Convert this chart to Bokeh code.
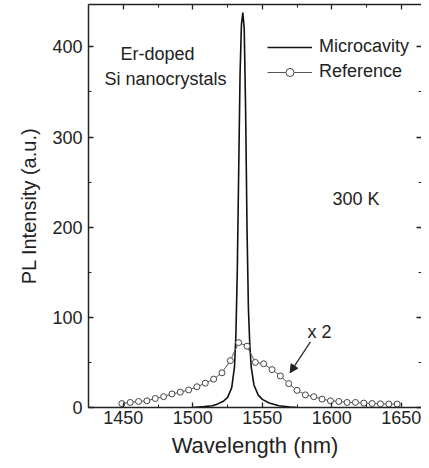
from bokeh.plotting import figure
from bokeh.models import (Range1d, LinearAxis, SingleIntervalTicker, Label, Arrow,
                          NormalHead, Legend, LegendItem, CustomJSTickFormatter, Title)
from bokeh.embed import file_html
from bokeh.resources import INLINE

# --- data ---
mc_wl = [1500, 1508, 1514, 1518, 1522, 1525, 1528, 1530, 1531, 1532, 1533, 1534, 1535,
         1536, 1537, 1538, 1539, 1540, 1541, 1542, 1544, 1547, 1550, 1555, 1562, 1570, 1575]
mc_pl = [0, 1, 2, 4, 7, 11, 22, 45, 80, 150, 260, 370, 425,
         438, 420, 330, 200, 110, 70, 45, 25, 14, 9, 5, 2, 0.5, 0]

ref_wl = [1449, 1455, 1461, 1467, 1473, 1479, 1485, 1491, 1497, 1503, 1509, 1515,
          1521, 1527, 1533, 1539, 1545, 1551, 1557, 1563, 1569, 1575, 1581, 1587,
          1593, 1599, 1605, 1611, 1617, 1623, 1629, 1635, 1641, 1647]
ref_pl = [4.4, 5.6, 6.7, 7.4, 10, 12, 15, 17, 19.5, 23, 27, 31.5,
          38.5, 52, 72, 68, 50, 48.5, 42, 35, 26.5, 19, 14, 12,
          9.3, 7.4, 6.7, 5.6, 5.6, 4.9, 4.4, 4.1, 3.8, 3.8]

FONT = "Liberation Sans"
INK = "#222222"

p = figure(width=421, height=460, output_backend="svg", toolbar_location=None,
           x_range=Range1d(1425, 1664.5), y_range=Range1d(0, 447),
           x_axis_label="Wavelength (nm)",
           min_border_left=88, min_border_right=0, min_border_top=4, min_border_bottom=53)
p.outline_line_color = None
p.grid.grid_line_color = None
p.background_fill_color = "white"

p.xaxis.ticker = SingleIntervalTicker(interval=50, num_minor_ticks=2)
p.yaxis.ticker = SingleIntervalTicker(interval=100, num_minor_ticks=2)

def style(ax, labels=True):
    ax.axis_line_color = INK
    ax.axis_line_width = 1.5
    ax.major_tick_line_color = INK
    ax.minor_tick_line_color = INK
    ax.major_tick_line_width = 1.3
    ax.minor_tick_line_width = 1.0
    ax.major_tick_in = 5
    ax.major_tick_out = 0
    ax.minor_tick_in = 3
    ax.minor_tick_out = 0
    if labels:
        ax.major_label_text_font = FONT
        ax.major_label_text_font_size = "18px"
        ax.major_label_text_color = INK
        ax.major_label_text_line_height = 0.9
        ax.axis_label_text_font = FONT
        ax.axis_label_text_font_size = "22px"
        ax.axis_label_text_font_style = "normal"
        ax.axis_label_text_color = INK
        ax.axis_label_text_line_height = 0.9
    else:
        ax.formatter = CustomJSTickFormatter(code="return ''")
        ax.major_label_standoff = 0

style(p.xaxis[0])
style(p.yaxis[0])
p.xaxis[0].major_label_standoff = 3
p.xaxis[0].axis_label_standoff = 6
p.yaxis[0].major_label_standoff = 6

top = LinearAxis(ticker=SingleIntervalTicker(interval=50, num_minor_ticks=2))
style(top, labels=False)
p.add_layout(top, "above")
right = LinearAxis(ticker=SingleIntervalTicker(interval=100, num_minor_ticks=2))
style(right, labels=False)
right.axis_line_color = None
p.add_layout(right, "right")

# y-axis title as a side title so it can be offset along the axis (negative = down)
p.add_layout(Title(text="PL Intensity (a.u.)", align="center", offset=-13, standoff=19,
                   text_font=FONT, text_font_size="20px", text_font_style="normal",
                   text_color=INK), "left")

mc = p.line(mc_wl, mc_pl, line_color="#111111", line_width=1.6)
rl = p.line(ref_wl, ref_pl, line_color="#555555", line_width=1.0)
rc = p.scatter(ref_wl, ref_pl, marker="circle", size=6, fill_color="white",
               line_color="#444444", line_width=1.0)

legend = Legend(items=[LegendItem(label="Microcavity", renderers=[mc]),
                       LegendItem(label="Reference", renderers=[rl, rc])],
                location=(179, 325), orientation="vertical",
                glyph_width=45, glyph_height=20, label_height=20, spacing=4,
                label_standoff=7, padding=0, margin=0,
                border_line_color=None, background_fill_alpha=0,
                label_text_font=FONT, label_text_font_size="18px", label_text_color=INK)
p.add_layout(legend)

def txt(x, y, s):
    p.add_layout(Label(x=x, y=y, text=s, text_font=FONT, text_font_size="18px",
                       text_color=INK, text_align="left", text_baseline="alphabetic"))

txt(1448, 392, "Er-doped")
txt(1436.5, 364, "Si nanocrystals")
txt(1600.5, 231, "300 K")
txt(1582.5, 84, "x 2")

p.add_layout(Arrow(end=NormalHead(size=8, fill_color=INK, line_color=INK),
                   x_start=1584.6, y_start=72.8, x_end=1570, y_end=38.6,
                   line_color=INK, line_width=1.2))

open("out.html", "w").write(file_html(p, INLINE))
